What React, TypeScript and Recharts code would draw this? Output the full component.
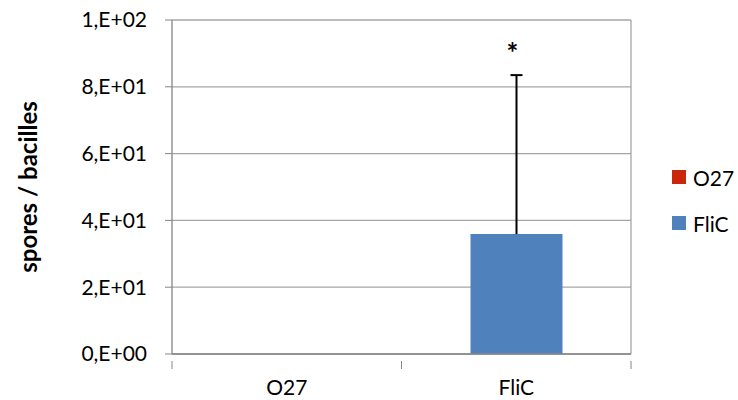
import React from 'react';
import { BarChart, Bar, XAxis, YAxis, CartesianGrid, Cell, Legend, Label, Rectangle } from 'recharts';

const categories = ['O27', 'FliC'];
const ratios = [0, 35.9];
const errorsUp = [0, 47.6];
const significance = ['', '*'];
const seriesColors = ['#c9260c', '#4f81bd'];
const yTicks = [0, 20, 40, 60, 80, 100];

const data = categories.map((name, i) => ({
  name,
  value: ratios[i],
  err: errorsUp[i],
  sig: significance[i],
}));

const W = 738;
const H = 400;
const M = { top: 20, right: 41, bottom: 0, left: 0 };
const Y_W = 172;
const X_H = 46;
const LEGEND_W = 66;
const FONT = 'Lato, "Open Sans", sans-serif';
const plotW = W - M.left - Y_W - (M.right + LEGEND_W);
const bandW = plotW / categories.length;

// excel style "8,E+01"
const sciFmt = (v: number) => {
  if (v === 0) return '0,E+00';
  const exp = Math.floor(Math.log10(v));
  const mant = Math.round(v / Math.pow(10, exp));
  return `${mant},E+${String(exp).padStart(2, '0')}`;
};

const XTick = ({ x, y, payload, index }: any) => {
  const left = x - bandW / 2;
  return (
    <g>
      <line x1={left} x2={left} y1={y - 1} y2={y + 7} stroke="#868686" />
      {index === categories.length - 1 && (
        <line x1={x + bandW / 2} x2={x + bandW / 2} y1={y - 1} y2={y + 7} stroke="#868686" />
      )}
      <text x={x} y={y + 33} textAnchor="middle" fontSize={21} fontFamily={FONT} fill="#000">
        {payload.value}
      </text>
    </g>
  );
};

// bar + upward error whisker + significance mark
const BarWithError = (props: any) => {
  const { x, y, width, height, payload, fill } = props;
  const err = payload?.err ?? 0;
  const val = payload?.value ?? 0;
  const cx = x + width / 2;
  const pxPerUnit = val ? height / val : 0;
  const top = y - err * pxPerUnit;
  return (
    <g>
      <Rectangle x={x} y={y} width={width} height={height} fill={fill} />
      {err > 0 && (
        <>
          <line x1={cx} x2={cx} y1={y} y2={top} stroke="#000" strokeWidth={2} />
          <line x1={cx - 6} x2={cx + 6} y1={top} y2={top} stroke="#000" strokeWidth={2} />
        </>
      )}
      {payload?.sig && (
        <text x={cx - 4} y={top - 12} textAnchor="middle" fontSize={28} fontWeight="bold" fontFamily={FONT} fill="#000">
          {payload.sig}
        </text>
      )}
    </g>
  );
};

const LegendBox = () => (
  <div style={{ width: LEGEND_W, fontFamily: FONT, fontSize: 21, color: '#000' }}>
    {categories.map((c, i) => (
      <div key={c} style={{ display: 'flex', alignItems: 'center', height: 46 }}>
        <span style={{ width: 14, height: 14, background: seriesColors[i], marginRight: 7, display: 'inline-block' }} />
        <span>{c}</span>
      </div>
    ))}
  </div>
);

export default function App() {
  return (
    <div style={{ position: 'absolute', left: 0, top: 0, background: '#fff' }}>
      <BarChart width={W} height={H} data={data} margin={M}>
        <CartesianGrid
          stroke="#a6a6a6"
          strokeWidth={1.3}
          verticalCoordinatesGenerator={({ offset }: any) => [offset.left + offset.width]}
        />
        <XAxis
          dataKey="name"
          height={X_H}
          axisLine={{ stroke: '#868686', strokeWidth: 1.3 }}
          tickLine={false}
          tick={<XTick />}
          interval={0}
        />
        <YAxis
          width={Y_W}
          domain={[0, 100]}
          ticks={yTicks}
          tickFormatter={sciFmt}
          axisLine={{ stroke: '#868686', strokeWidth: 1.3 }}
          tickLine={{ stroke: '#868686' }}
          tickSize={7}
          tickMargin={18}
          tick={{ fill: '#000', fontSize: 21, fontFamily: FONT }}
        >
          <Label
            content={({ viewBox }: any) => (
              <text
                x={27}
                y={viewBox.y + viewBox.height / 2}
                transform={`rotate(-90, 27, ${viewBox.y + viewBox.height / 2})`}
                textAnchor="middle"
                dominantBaseline="central"
                fontSize={24}
                fontWeight="bold"
                fontFamily={FONT}
                fill="#000"
              >
                spores / bacilles
              </text>
            )}
          />
        </YAxis>
        <Legend
          layout="vertical"
          align="right"
          verticalAlign="middle"
          content={<LegendBox />}
          wrapperStyle={{ width: LEGEND_W, right: 0 }}
        />
        <Bar dataKey="value" barSize={92} isAnimationActive={false} shape={<BarWithError />}>
          {data.map((d, i) => (
            <Cell key={d.name} fill={seriesColors[i]} />
          ))}
        </Bar>
      </BarChart>
    </div>
  );
}
